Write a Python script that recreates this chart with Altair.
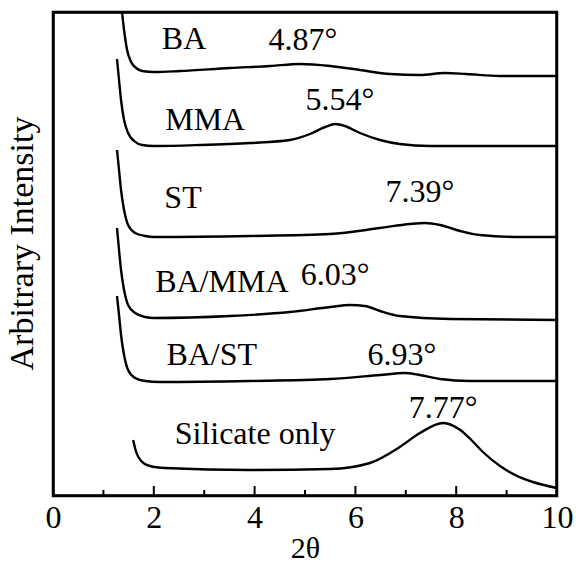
import altair as alt
import pandas as pd

# ---- data (x = 2theta, y = arbitrary intensity units) ----
ba_x = [1.37, 1.41, 1.47, 1.55, 1.65, 1.77, 2.0, 2.52, 3.51, 4.31, 4.90, 5.50, 6.09, 6.69, 7.28, 7.78, 8.20, 8.87, 9.46, 10.0]
ba_y = [484, 466, 446, 434, 428, 425, 424, 425, 428, 430, 432, 430, 426, 422, 421, 423, 422, 420, 420, 420]

mma_x = [1.27, 1.31, 1.35, 1.41, 1.49, 1.61, 1.77, 2.0, 2.92, 3.91, 4.70, 5.10, 5.40, 5.60, 5.79, 6.09, 6.49, 6.88, 7.48, 8.47, 10.0]
mma_y = [437, 416, 396, 376, 363, 355, 351, 350, 351, 353, 356, 362, 369, 372, 370, 363, 356, 352, 350, 350, 350]

st_x = [1.27, 1.31, 1.35, 1.41, 1.49, 1.63, 1.83, 2.0, 3.91, 5.50, 6.49, 7.08, 7.38, 7.68, 8.08, 8.47, 9.27, 10.0]
st_y = [346, 326, 306, 286, 271, 263, 260, 259, 260, 262, 268, 272, 273, 271, 265, 261, 259, 259]

bamma_x = [1.27, 1.31, 1.35, 1.41, 1.49, 1.63, 1.83, 2.0, 3.51, 4.70, 5.50, 5.89, 6.19, 6.49, 6.88, 7.88, 10.0]
bamma_y = [268, 246, 226, 206, 191, 183, 179, 178, 180, 184, 189, 191, 190, 185, 180, 177, 176]

bast_x = [1.27, 1.31, 1.35, 1.41, 1.49, 1.63, 1.83, 2.12, 3.91, 5.50, 6.49, 6.98, 7.28, 7.68, 8.27, 10.0]
bast_y = [200, 181, 161, 141, 126, 118, 115, 114, 115, 117, 121, 123, 121, 117, 115, 115]

sil_x = [1.59, 1.65, 1.75, 1.92, 2.22, 3.91, 5.50, 6.29, 6.88, 7.28, 7.74, 8.08, 8.30, 8.53, 8.87, 9.21, 9.52, 10.0]
sil_y = [56, 44, 35, 30, 28, 26, 27, 33, 49, 63, 73, 66, 56, 44, 30, 20, 14, 8]

series_names = ["BA", "MMA", "ST", "BA/MMA", "BA/ST", "Silicate only"]
series_x = [ba_x, mma_x, st_x, bamma_x, bast_x, sil_x]
series_y = [ba_y, mma_y, st_y, bamma_y, bast_y, sil_y]

# annotation texts and their anchor positions in data units
label_text = ["BA", "4.87°", "MMA", "5.54°", "ST", "7.39°", "BA/MMA", "6.03°", "BA/ST", "6.93°", "Silicate only", "7.77°"]
label_x = [2.60, 4.96, 3.02, 5.69, 2.58, 7.28, 3.35, 5.60, 3.15, 6.92, 4.01, 7.74]
label_y = [457, 456, 376, 396, 298, 304, 214, 221, 141, 141, 62, 88]

major_ticks = [0, 2, 4, 6, 8, 10]
minor_ticks = [1, 3, 5, 7, 9]

FONT = "Liberation Serif"
W, H = 504, 484

rows = []
for name, xs, ys in zip(series_names, series_x, series_y):
    for i, (xv, yv) in enumerate(zip(xs, ys)):
        rows.append({"series": name, "x": xv, "y": yv, "order": i})
curves = pd.DataFrame(rows)

labels = pd.DataFrame({"text": label_text, "x": label_x, "y": label_y})

xscale = alt.Scale(domain=[0, 10], nice=False, zero=False)
yscale = alt.Scale(domain=[0, 484], nice=False, zero=False)

lines = alt.Chart(curves).mark_line(
    color="black", strokeWidth=2.4, interpolate="monotone", clip=True
).encode(
    x=alt.X("x:Q", scale=xscale,
            axis=alt.Axis(title="2θ", values=major_ticks, format="d",
                          labelFont=FONT, labelFontSize=32, labelColor="black",
                          labelPadding=6, labelFlush=False, labelOverlap=False,
                          ticks=False, domain=False, grid=False,
                          titleFont=FONT, titleFontSize=30, titleFontWeight="normal",
                          titleColor="black", titlePadding=0)),
    y=alt.Y("y:Q", scale=yscale,
            axis=alt.Axis(title="Arbitrary Intensity", labels=False, ticks=False,
                          domain=False, grid=False,
                          titleFont=FONT, titleFontSize=34, titleFontWeight="normal",
                          titleColor="black", titleAngle=-90, titleX=-31, titleY=231,
                          titleAlign="center", titleBaseline="middle")),
    detail="series:N",
    order="order:Q",
)

texts = alt.Chart(labels).mark_text(
    font=FONT, fontSize=32, color="black", align="center", baseline="middle"
).encode(
    x=alt.X("x:Q", scale=xscale),
    y=alt.Y("y:Q", scale=yscale),
    text="text:N",
)

major = alt.Chart(pd.DataFrame({"t": major_ticks})).mark_rule(
    color="black", strokeWidth=2
).encode(
    x=alt.X("t:Q", scale=xscale),
    y=alt.value(H), y2=alt.value(H - 10),
)

minor = alt.Chart(pd.DataFrame({"t": minor_ticks})).mark_rule(
    color="black", strokeWidth=2
).encode(
    x=alt.X("t:Q", scale=xscale),
    y=alt.value(H), y2=alt.value(H - 6),
)

frame = alt.Chart(pd.DataFrame({"k": [0]})).mark_rect(
    fill="transparent", stroke="black", strokeWidth=2.5
).encode(
    x=alt.value(0.5), x2=alt.value(W - 0.5), y=alt.value(0.5), y2=alt.value(H - 0.5)
)

chart = alt.layer(lines, texts, major, minor, frame).properties(
    width=W, height=H,
    background="white",
    autosize=alt.AutoSizeParams(type="none"),
    padding={"left": 53, "top": 12, "right": 19, "bottom": 70},
).configure_view(
    stroke="black", strokeWidth=2.5
)

chart.save("out.html", embed_options={"renderer": "svg", "actions": False})
